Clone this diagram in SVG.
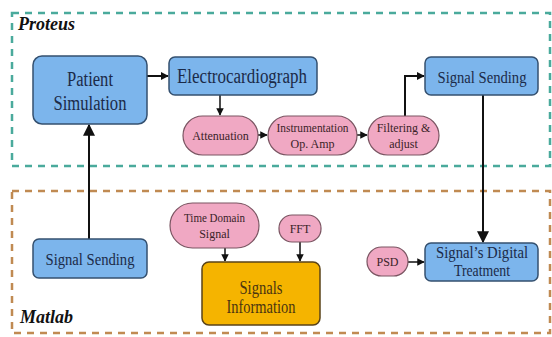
<svg xmlns="http://www.w3.org/2000/svg" width="552" height="337" viewBox="0 0 552 337">
<defs>
<marker id="ah" viewBox="0 0 10 10" refX="9" refY="5" markerWidth="4" markerHeight="4" orient="auto" markerUnits="strokeWidth">
<path d="M0,0 L10,5 L0,10 z" fill="#111"/>
</marker>
<marker id="ahb" viewBox="0 0 10 10" refX="9" refY="5" markerWidth="6" markerHeight="6" orient="auto" markerUnits="strokeWidth">
<path d="M0,0 L10,5 L0,10 z" fill="#111"/>
</marker>
<marker id="ahs" viewBox="0 0 10 10" refX="9" refY="5" markerWidth="5" markerHeight="5" orient="auto" markerUnits="strokeWidth">
<path d="M0,0 L10,5 L0,10 z" fill="#111"/>
</marker>
<style>
.blue{fill:#7cb5ec;stroke:#34506f;stroke-width:1.5}
.pink{fill:#f0a8c3;stroke:#7a5562;stroke-width:1.2}
.orange{fill:#f5b400;stroke:#5a4318;stroke-width:1.5}
.t{font-family:"Liberation Serif","Times New Roman",serif;text-anchor:middle}
.tb{fill:#1b2a48}
.tp{fill:#3a1f28}
.to{fill:#4a3510}
.c{fill:none;stroke:#111;stroke-width:2}
.cs{fill:none;stroke:#111;stroke-width:1.5}
.lbl{font-family:"Liberation Serif","Times New Roman",serif;font-weight:bold;font-style:italic;fill:#111;font-size:18px}
</style>
</defs>
<rect width="552" height="337" fill="#fff"/>
<g id="regions">
<rect x="12" y="13" width="538" height="153" fill="none" stroke="#4aaa9c" stroke-width="2.5" stroke-dasharray="7,6"/>
<rect x="12" y="191" width="538" height="142" fill="none" stroke="#c08a52" stroke-width="2.5" stroke-dasharray="7,6"/>
<text class="lbl" x="18" y="30">Proteus</text>
<text class="lbl" x="20" y="323">Matlab</text>
</g>
<g id="connectors">
<path class="c" d="M147,76 L168,76" marker-end="url(#ah)"/>
<path class="cs" d="M220,95 L220,115" marker-end="url(#ahs)"/>
<path class="cs" d="M258,135 L267,135" marker-end="url(#ahs)"/>
<path class="cs" d="M357,135 L367,135" marker-end="url(#ahs)"/>
<path class="c" d="M405,116 L405,76 L424,76" marker-end="url(#ah)"/>
<path class="c" d="M483,95 L483,242" marker-end="url(#ahb)"/>
<path class="c" d="M89,239 L89,125" marker-end="url(#ahb)"/>
<path class="cs" d="M225,248 L225,261" marker-end="url(#ahs)"/>
<path class="cs" d="M300,242 L300,261" marker-end="url(#ahs)"/>
<path class="cs" d="M408,262 L424,262" marker-end="url(#ahs)"/>
</g>
<g id="patient">
<rect class="blue" x="33" y="56" width="114" height="68" rx="9"/>
<text class="t tb" x="90" y="86" font-size="20" textLength="46" lengthAdjust="spacingAndGlyphs">Patient</text>
<text class="t tb" x="90" y="110" font-size="20" textLength="73" lengthAdjust="spacingAndGlyphs">Simulation</text>
</g>
<g id="ecg">
<rect class="blue" x="169" y="57" width="148" height="38" rx="6"/>
<text class="t tb" x="242" y="83" font-size="20" textLength="130" lengthAdjust="spacingAndGlyphs">Electrocardiograph</text>
</g>
<g id="attenuation">
<rect class="pink" x="183" y="116" width="75" height="39" rx="19.5"/>
<text class="t tp" x="220.5" y="140" font-size="12">Attenuation</text>
</g>
<g id="instr">
<rect class="pink" x="268" y="116" width="89" height="39" rx="19.5"/>
<text class="t tp" x="312.5" y="132" font-size="12" textLength="72" lengthAdjust="spacingAndGlyphs">Instrumentation</text>
<text class="t tp" x="312.5" y="148" font-size="12">Op. Amp</text>
</g>
<g id="filter">
<rect class="pink" x="368" y="116" width="71" height="39" rx="19.5"/>
<text class="t tp" x="403.5" y="132" font-size="12">Filtering &amp;</text>
<text class="t tp" x="403.5" y="148" font-size="12">adjust</text>
</g>
<g id="sendTop">
<rect class="blue" x="425" y="57" width="113" height="38" rx="6"/>
<text class="t tb" x="482" y="83" font-size="16" textLength="89" lengthAdjust="spacingAndGlyphs">Signal Sending</text>
</g>
<g id="sendBottom">
<rect class="blue" x="33" y="239" width="114" height="39" rx="6"/>
<text class="t tb" x="90" y="265" font-size="16" textLength="89" lengthAdjust="spacingAndGlyphs">Signal Sending</text>
</g>
<g id="timeDomain">
<rect class="pink" x="170" y="203" width="89" height="45" rx="22.5"/>
<text class="t tp" x="214.5" y="222" font-size="12" textLength="61" lengthAdjust="spacingAndGlyphs">Time Domain</text>
<text class="t tp" x="214.5" y="238" font-size="12">Signal</text>
</g>
<g id="fft">
<rect class="pink" x="279" y="215" width="42" height="27" rx="13"/>
<text class="t tp" x="300" y="233" font-size="12">FFT</text>
</g>
<g id="info">
<rect class="orange" x="202" y="262" width="118" height="63" rx="7"/>
<text class="t to" x="261" y="294" font-size="19" textLength="43" lengthAdjust="spacingAndGlyphs">Signals</text>
<text class="t to" x="261" y="313" font-size="19" textLength="69" lengthAdjust="spacingAndGlyphs">Information</text>
</g>
<g id="psd">
<rect class="pink" x="367" y="247" width="41" height="29" rx="14.5"/>
<text class="t tp" x="387.5" y="266" font-size="12">PSD</text>
</g>
<g id="digital">
<rect class="blue" x="425" y="243" width="113" height="38" rx="6"/>
<text class="t tb" x="482" y="258" font-size="16" textLength="92" lengthAdjust="spacingAndGlyphs">Signal’s Digital</text>
<text class="t tb" x="482" y="276" font-size="16" textLength="56" lengthAdjust="spacingAndGlyphs">Treatment</text>
</g>
</svg>
